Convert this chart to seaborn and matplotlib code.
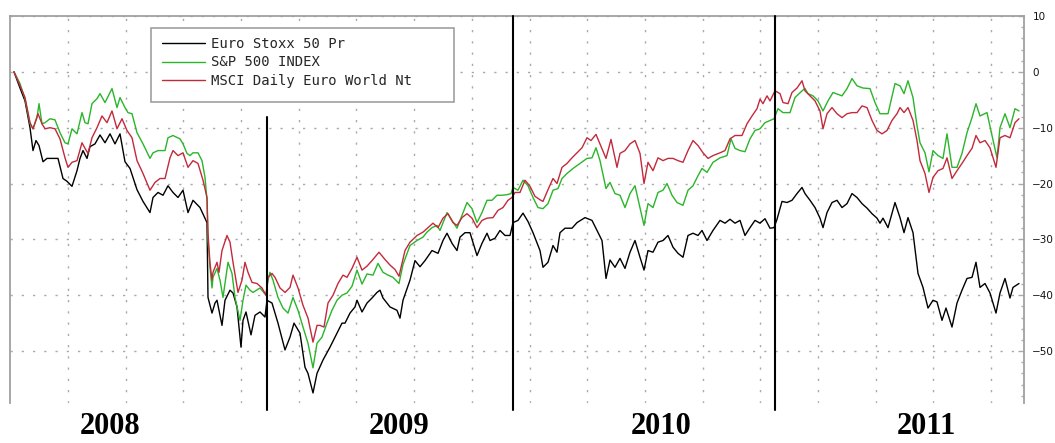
import numpy as np
import pandas as pd
import matplotlib
matplotlib.use("Agg")
import matplotlib.pyplot as plt
import matplotlib.transforms as mtransforms
from matplotlib.patches import Rectangle
from matplotlib.ticker import MultipleLocator, FixedLocator, NullFormatter
import seaborn as sns

# ---------------- data (trading-day index, % change) ----------------
series_names = ["Euro Stoxx 50 Pr", "S&P 500 INDEX", "MSCI Daily Euro World Nt"]
series_colors = ["#000000", "#2ab52a", "#c22a3c"]

euro_day = [0, 6, 11, 16, 19, 22, 25, 29, 33, 38, 44, 49, 53, 58, 63, 66, 69, 73, 76, 81,
            86, 91, 96, 101, 106, 111, 116, 123, 129, 136, 139, 144, 149, 154, 159, 164, 169, 174, 179, 186,
            193, 194, 198, 201, 203, 208, 211, 216, 219, 223, 227, 229, 232, 237, 241, 246, 251, 253, 258, 264,
            271, 276, 280, 286, 291, 294, 299, 303, 309, 316, 323, 328, 331, 336, 341, 343, 348, 353, 358, 363,
            366, 369, 376, 383, 386, 389, 396, 401, 406, 411, 418, 424, 429, 433, 438, 443, 446, 451, 456, 463,
            468, 473, 476, 481, 486, 491, 496, 499, 504, 509, 514, 519, 526, 529, 534, 539, 543, 546, 551, 558,
            563, 571, 578, 583, 588, 592, 596, 601, 606, 611, 616, 621, 626, 630, 634, 639, 644, 649, 654, 659,
            664, 669, 674, 679, 684, 688, 693, 699, 706, 711, 716, 721, 726, 731, 736, 741, 746, 751, 756, 760,
            763, 768, 773, 778, 783, 788, 791, 796, 801, 806, 809, 813, 818, 823, 828, 833, 838, 843, 848, 853,
            858, 863, 866, 869, 874, 881, 886, 890, 894, 899, 904, 909, 914, 919, 923, 928, 932, 938, 943, 948,
            953, 958, 962, 966, 971, 976, 982, 986, 991, 996, 999, 1005]
euro_val = [0.0, -2.9, -5.2, -10.0, -14.1, -12.3, -13.2, -16.1, -15.5, -15.5, -15.5, -19.1, -19.6, -20.5, -17.7, -15.5, -14.1, -15.5, -13.4, -12.9,
            -11.3, -12.7, -11.1, -12.9, -11.1, -16.1, -17.3, -21.1, -23.2, -25.2, -22.5, -21.6, -22.1, -20.4, -21.6, -22.5, -21.2, -25.2, -23.0, -24.3,
            -27.0, -40.4, -43.2, -41.4, -40.9, -45.4, -40.9, -39.1, -39.6, -42.1, -49.3, -44.5, -43.0, -47.1, -43.6, -43.0, -43.9, -40.9, -41.4, -45.0,
            -49.8, -47.5, -45.0, -46.8, -52.9, -54.0, -57.5, -54.0, -51.6, -49.3, -46.8, -45.0, -45.0, -43.2, -42.1, -40.9, -43.0, -41.4, -40.5, -39.5,
            -39.1, -40.5, -42.1, -42.7, -44.1, -40.9, -37.3, -33.8, -34.9, -33.8, -32.0, -32.5, -30.2, -28.9, -30.7, -32.0, -29.6, -28.8, -28.8, -32.9,
            -30.7, -28.9, -30.2, -29.8, -28.4, -29.3, -29.3, -27.0, -26.6, -25.3, -26.8, -28.8, -32.0, -35.0, -34.1, -31.1, -32.3, -28.8, -28.0, -28.0,
            -27.0, -26.1, -26.6, -28.4, -30.2, -37.0, -33.7, -35.0, -33.4, -35.2, -32.3, -30.2, -33.2, -35.5, -32.0, -32.3, -30.5, -30.2, -29.3, -31.4,
            -32.5, -33.2, -29.3, -28.9, -29.3, -28.4, -30.2, -28.4, -26.6, -27.1, -26.4, -27.1, -26.6, -29.3, -27.9, -26.6, -27.1, -26.3, -28.0, -27.9,
            -26.4, -23.2, -23.4, -23.0, -21.8, -20.7, -21.8, -23.0, -24.3, -26.2, -27.9, -25.2, -23.4, -23.0, -24.3, -23.6, -21.8, -22.5, -23.6, -24.4,
            -25.4, -26.2, -27.1, -26.2, -27.9, -23.4, -26.1, -28.8, -26.1, -28.8, -36.1, -38.6, -42.3, -40.9, -41.2, -44.5, -42.3, -45.7, -41.4, -39.1,
            -37.0, -36.8, -34.1, -38.6, -37.9, -39.6, -43.2, -39.6, -37.0, -40.5, -38.6, -37.9]

sp_day = [0, 6, 11, 16, 19, 23, 25, 28, 31, 36, 41, 46, 51, 54, 58, 63, 68, 71, 74, 78,
          83, 86, 91, 98, 103, 106, 111, 114, 118, 123, 129, 136, 139, 144, 151, 154, 159, 166, 169, 173,
          176, 179, 184, 188, 191, 193, 194, 196, 198, 199, 203, 206, 209, 214, 218, 221, 226, 229, 232, 236,
          239, 246, 252, 254, 256, 259, 264, 269, 274, 279, 284, 289, 294, 299, 303, 308, 313, 318, 323, 328,
          333, 338, 343, 348, 353, 359, 364, 369, 374, 379, 385, 389, 396, 403, 409, 413, 418, 423, 426, 433,
          438, 443, 448, 453, 458, 463, 468, 473, 478, 483, 488, 493, 497, 499, 504, 509, 514, 519, 524, 529,
          534, 539, 544, 548, 553, 559, 566, 573, 578, 582, 586, 592, 596, 601, 606, 611, 616, 621, 626, 630,
          634, 639, 644, 649, 653, 658, 663, 669, 674, 679, 684, 688, 693, 699, 706, 713, 717, 721, 726, 731,
          736, 741, 746, 751, 756, 760, 764, 769, 776, 781, 788, 791, 794, 799, 804, 809, 814, 819, 828, 833,
          838, 843, 849, 856, 861, 866, 874, 881, 886, 890, 894, 899, 903, 906, 911, 915, 919, 924, 929, 933,
          938, 943, 948, 953, 958, 962, 966, 973, 978, 983, 986, 991, 996, 1001, 1005]
sp_val = [0.0, -2.1, -4.8, -9.3, -10.2, -8.2, -5.7, -9.3, -9.1, -8.4, -8.6, -10.9, -12.7, -12.9, -10.2, -11.1, -7.3, -9.1, -9.3, -5.7,
          -4.8, -3.9, -5.5, -3.0, -6.4, -4.6, -6.4, -7.3, -7.5, -10.9, -12.9, -15.5, -14.5, -14.1, -14.1, -11.8, -11.4, -12.0, -12.9, -14.6,
          -15.0, -14.5, -14.5, -15.9, -18.9, -23.0, -30.2, -35.0, -38.7, -36.8, -35.2, -37.3, -40.4, -34.1, -36.1, -40.4, -44.5, -40.9, -38.2, -39.1,
          -39.5, -38.7, -40.0, -37.3, -35.9, -37.3, -40.4, -42.3, -43.2, -40.4, -42.7, -45.7, -48.6, -53.0, -48.6, -47.5, -45.0, -42.7, -40.9, -40.0,
          -39.6, -38.4, -35.5, -38.0, -36.2, -36.4, -34.3, -35.9, -36.4, -36.8, -37.9, -34.5, -31.1, -30.2, -29.6, -28.7, -27.9, -27.5, -28.4, -25.2,
          -26.6, -28.0, -25.7, -23.4, -24.5, -27.0, -25.2, -23.0, -23.0, -22.1, -22.1, -22.0, -21.8, -20.7, -21.2, -19.4, -20.4, -22.5, -24.3, -24.5,
          -23.6, -21.2, -20.9, -19.1, -18.2, -17.3, -16.4, -15.5, -15.4, -13.6, -15.9, -20.9, -19.8, -21.8, -22.1, -24.3, -21.8, -20.4, -24.3, -27.5,
          -23.6, -24.3, -21.6, -21.2, -20.0, -22.1, -23.4, -23.9, -21.2, -20.4, -18.6, -17.3, -18.0, -16.2, -15.4, -15.0, -12.0, -13.7, -14.1, -14.3,
          -12.0, -10.5, -10.2, -9.1, -8.7, -8.4, -6.6, -7.3, -7.3, -4.6, -3.4, -3.0, -3.9, -4.3, -5.2, -7.0, -5.2, -3.7, -4.3, -3.0,
          -1.2, -2.5, -2.9, -3.0, -5.5, -7.5, -7.5, -2.1, -2.5, -3.9, -1.6, -4.6, -9.6, -12.7, -14.5, -17.9, -14.1, -15.0, -15.5, -11.1,
          -17.1, -17.1, -14.6, -10.9, -8.2, -5.7, -7.9, -7.3, -11.4, -15.4, -10.0, -7.5, -10.0, -6.6, -7.0]

msci_day = [0, 6, 11, 16, 19, 24, 28, 31, 36, 41, 46, 51, 54, 58, 63, 68, 71, 74, 78, 83,
            88, 93, 98, 103, 108, 113, 118, 123, 129, 136, 141, 146, 151, 156, 159, 164, 169, 174, 179, 184,
            189, 193, 194, 196, 198, 199, 203, 205, 208, 213, 216, 219, 224, 228, 231, 234, 238, 243, 248, 252,
            254, 258, 261, 266, 271, 276, 279, 284, 289, 294, 299, 303, 306, 310, 314, 319, 324, 329, 333, 338,
            343, 348, 353, 358, 365, 371, 376, 381, 385, 391, 396, 403, 409, 414, 419, 424, 429, 434, 439, 443,
            448, 453, 458, 463, 468, 473, 479, 484, 489, 494, 498, 501, 506, 511, 516, 521, 526, 529, 534, 539,
            543, 548, 553, 558, 563, 568, 573, 577, 582, 586, 592, 597, 603, 606, 611, 616, 621, 626, 630, 634,
            639, 644, 649, 654, 659, 664, 669, 674, 679, 684, 689, 694, 699, 706, 711, 716, 721, 728, 733, 738,
            743, 746, 749, 753, 756, 761, 766, 769, 774, 778, 783, 788, 791, 796, 801, 806, 809, 813, 818, 823,
            828, 833, 838, 843, 848, 853, 858, 863, 868, 873, 878, 883, 886, 890, 894, 899, 903, 906, 911, 915,
            919, 924, 929, 933, 938, 943, 948, 953, 958, 962, 966, 971, 976, 982, 986, 991, 996, 1001, 1005]
msci_val = [0.0, -2.5, -4.6, -9.1, -10.2, -7.5, -9.3, -10.2, -10.0, -10.2, -12.0, -15.4, -17.1, -16.2, -15.9, -12.7, -13.7, -14.6, -11.8, -10.0,
            -7.9, -9.1, -7.0, -10.2, -8.4, -10.5, -11.8, -15.9, -18.2, -21.2, -19.8, -19.1, -19.1, -15.4, -14.1, -15.0, -14.5, -17.1, -15.9, -16.4,
            -19.4, -22.5, -28.9, -34.3, -37.3, -35.9, -34.1, -35.9, -32.0, -29.3, -30.5, -34.1, -39.5, -37.3, -34.1, -35.9, -37.7, -37.9, -38.7, -40.0,
            -36.8, -36.1, -36.8, -38.7, -39.5, -38.6, -36.4, -38.7, -41.8, -44.1, -48.4, -45.4, -45.4, -45.7, -41.4, -40.0, -37.9, -36.4, -36.8, -35.2,
            -33.2, -35.5, -34.8, -33.8, -32.3, -33.6, -34.6, -35.4, -36.6, -32.0, -30.5, -29.3, -28.7, -27.9, -27.1, -27.9, -26.2, -25.4, -27.0, -27.5,
            -26.1, -25.4, -26.2, -27.9, -26.6, -26.2, -26.1, -24.8, -24.3, -23.0, -22.5, -21.6, -21.6, -19.4, -20.5, -22.3, -22.9, -23.2, -21.1, -19.1,
            -20.0, -17.1, -16.4, -15.4, -14.5, -13.6, -11.8, -12.3, -11.2, -12.9, -15.5, -12.1, -17.1, -14.6, -14.1, -12.9, -12.3, -14.6, -20.0, -16.2,
            -17.7, -15.4, -15.9, -15.5, -15.5, -15.9, -16.2, -14.1, -12.3, -13.2, -14.5, -15.5, -15.0, -14.5, -14.1, -12.0, -11.4, -11.4, -9.3, -7.9,
            -6.6, -4.9, -5.7, -4.3, -5.2, -3.4, -3.9, -5.5, -5.7, -3.7, -2.9, -1.6, -3.4, -4.3, -5.2, -7.0, -10.2, -7.5, -6.4, -7.5,
            -8.2, -7.5, -7.3, -7.3, -6.1, -6.4, -8.7, -10.5, -11.1, -10.5, -8.7, -7.5, -6.4, -7.3, -6.4, -8.7, -12.3, -15.9, -18.2, -21.6,
            -18.9, -17.7, -17.3, -15.4, -19.1, -17.7, -16.4, -15.0, -13.7, -11.4, -12.7, -12.3, -13.6, -17.1, -11.8, -11.4, -11.8, -9.1, -8.4]

year_labels = ["2008", "2009", "2010", "2011"]
year_label_day = [96, 385, 647, 912]
year_break_day = [253, 499, 761]
year_break_top = [-8.0, 10.0, 10.0]
y_ticks = [10, 0, -10, -20, -30, -40, -50]

# ---------------- build long frame ----------------
frames = []
for name, d, v in zip(series_names, [euro_day, sp_day, msci_day], [euro_val, sp_val, msci_val]):
    frames.append(pd.DataFrame({"day": d, "value": v, "index": name}))
df = pd.concat(frames, ignore_index=True)

sns.set_style("white")
plt.rcParams["font.family"] = ["DejaVu Sans"]

fig = plt.figure(figsize=(10.55, 4.43), dpi=100)
ax = fig.add_axes([10 / 1055, 40 / 443, 1014 / 1055, 387 / 443])

sns.lineplot(data=df, x="day", y="value", hue="index", hue_order=series_names,
             palette=series_colors, estimator=None, sort=False, linewidth=1.0, ax=ax)

ax.set_xlim(-4, 1010)
ax.set_ylim(-59.3, 10)
ax.set_xlabel("")
ax.set_ylabel("")

# grid
grid_color = "#a9a9a9"
ax.xaxis.set_major_locator(FixedLocator(np.linspace(54, 977, 17)))
ax.xaxis.set_major_formatter(NullFormatter())
ax.tick_params(axis="x", length=0)
ax.yaxis.tick_right()
ax.set_yticks(y_ticks)
ax.yaxis.set_minor_locator(MultipleLocator(2))
ax.tick_params(axis="y", which="major", direction="in", length=4, width=1,
               color=grid_color, labelcolor="#111111", labelsize=7.5, pad=6)
ax.tick_params(axis="y", which="minor", direction="in", length=2.5, width=1, color=grid_color)
ax.grid(True, which="major", axis="both", color=grid_color, linestyle=(0, (1.6, 6.5)), linewidth=1.0)

for side in ["left", "top", "right"]:
    ax.spines[side].set_color("#a0a0a0")
    ax.spines[side].set_linewidth(1.3)
ax.spines["bottom"].set_visible(False)

# year separators
for d, top in zip(year_break_day, year_break_top):
    ax.plot([d, d], [top, -60.5], color="black", linewidth=1.5, clip_on=False, zorder=4)

# year labels
trans = mtransforms.blended_transform_factory(ax.transData, ax.transAxes)
for lab, d in zip(year_labels, year_label_day):
    ax.text(d, -0.099, lab, transform=trans, ha="center", va="bottom",
            fontsize=22, fontweight="bold", family="Liberation Serif", color="black")

# legend
handles, labels = ax.get_legend_handles_labels()
if ax.legend_ is not None:
    ax.legend_.remove()
box = Rectangle((0.139, 0.778), 0.299, 0.191, transform=ax.transAxes, facecolor="white",
                edgecolor="#a0a0a0", linewidth=1.2, zorder=5)
ax.add_patch(box)
leg = ax.legend(handles, labels, loc="upper left", bbox_to_anchor=(0.150, 0.945),
                frameon=False, borderpad=0, borderaxespad=0, handlelength=3.1,
                handletextpad=0.45, labelspacing=0.3,
                prop={"family": "DejaVu Sans Mono", "size": 10})
leg.set_zorder(6)
for line in leg.get_lines():
    line.set_linewidth(1.0)

fig.savefig("out.png", dpi=100)
